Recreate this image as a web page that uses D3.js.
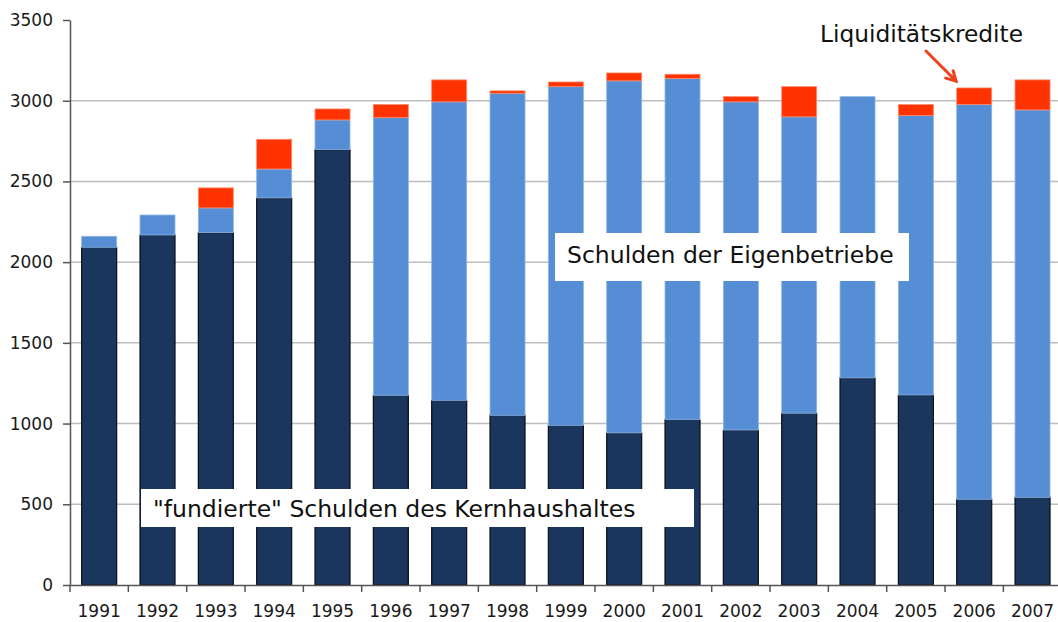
<!DOCTYPE html>
<html>
<head>
<meta charset="utf-8">
<script src="https://cdn.jsdelivr.net/npm/d3@7"></script>
<style>
  body { margin: 0; background: #fff; }
  text { font-family: "DejaVu Sans", Verdana, sans-serif; }
</style>
</head>
<body>
<div id="chart"></div>
<script>
const width = 1058;
const height = 622;

const years = ["1991", "1992", "1993", "1994", "1995", "1996", "1997", "1998", "1999",
    "2000", "2001", "2002", "2003", "2004", "2005", "2006", "2007"];
// "fundierte" Schulden des Kernhaushaltes
const kern = [2092, 2168, 2183, 2398, 2697, 1175, 1144, 1051, 989, 942, 1024, 960, 1064, 1283, 1177, 531, 543];
// Schulden der Eigenbetriebe
const eigen = [68, 124, 153, 179, 184, 1720, 1849, 1995, 2098, 2181, 2113, 2033, 1836, 1742, 1731, 2445, 2400];
// Liquiditätskredite
const liqui = [0, 0, 124, 184, 68, 81, 136, 15, 29, 49, 27, 32, 187, 0, 68, 103, 186];
const yTicks = [0, 500, 1000, 1500, 2000, 2500, 3000, 3500];

const colors = { kern: "#1b365d", eigen: "#558ed5", liqui: "#ff3300" };
const strokes = { kern: "#0a0f18", eigen: "#8fb4e6", liqui: "#ff8a6e" };

const svg = d3.select("#chart")
    .append("svg")
    .attr("width", width)
    .attr("height", height);

const x = d3.scaleBand()
    .domain(years)
    .range([70, 1061.7])
    .paddingInner(0.4)
    .paddingOuter(0.2);

const y = d3.scaleLinear()
    .domain([0, 3500])
    .range([585, 20]);

// gridlines
svg.append("g")
    .selectAll("line")
    .data(yTicks.filter(d => d > 0 && d < 3500))
    .enter()
    .append("line")
    .attr("x1", 70)
    .attr("x2", width)
    .attr("y1", d => y(d))
    .attr("y2", d => y(d))
    .attr("stroke", "#bdbdbd")
    .attr("stroke-width", 1.5);

const rows = years.map((yr, i) => ({ year: yr, kern: kern[i], eigen: eigen[i], liqui: liqui[i] }));
const stack = d3.stack().keys(["kern", "eigen", "liqui"])(rows);

svg.append("g")
    .selectAll("g")
    .data(stack)
    .enter()
    .append("g")
    .attr("fill", d => colors[d.key])
    .attr("stroke", d => strokes[d.key])
    .attr("stroke-width", d => d.key === "kern" ? 1.2 : 0.8)
    .selectAll("rect")
    .data(d => d.filter(p => p[1] - p[0] > 0))
    .enter()
    .append("rect")
    .attr("x", d => x(d.data.year))
    .attr("width", x.bandwidth())
    .attr("y", d => y(d[1]))
    .attr("height", d => y(d[0]) - y(d[1]));

// y axis
const yAxis = svg.append("g")
    .attr("transform", "translate(70,0)")
    .call(d3.axisLeft(y).tickValues(yTicks).tickFormat(d3.format("d"))
        .tickSize(7).tickPadding(10).tickSizeOuter(0));
yAxis.select(".domain").attr("stroke", "#555").attr("stroke-width", 1.5);
yAxis.selectAll(".tick line").attr("stroke", "#555").attr("stroke-width", 1.5);
yAxis.selectAll("text")
    .attr("font-size", 17)
    .attr("fill", "#1a1a1a")
    .style("font-family", "'DejaVu Sans', Verdana, sans-serif");

// x axis
const xAxis = svg.append("g")
    .attr("transform", "translate(0,585)")
    .call(d3.axisBottom(x).tickSize(0).tickPadding(20).tickSizeOuter(0));
xAxis.select(".domain").attr("stroke", "#555").attr("stroke-width", 1.5);
xAxis.selectAll("text")
    .attr("font-size", 17)
    .attr("fill", "#1a1a1a")
    .style("font-family", "'DejaVu Sans', Verdana, sans-serif");
xAxis.selectAll(".edge")
    .data(years)
    .enter()
    .append("line")
    .attr("x1", d => x(d) - x.step() * 0.2)
    .attr("x2", d => x(d) - x.step() * 0.2)
    .attr("y1", 0)
    .attr("y2", 7)
    .attr("stroke", "#555")
    .attr("stroke-width", 1.5);

// annotation boxes
function labelBox(txt, bx, by, bw, bh, tx, ty) {
    svg.append("rect")
        .attr("x", bx).attr("y", by)
        .attr("width", bw).attr("height", bh)
        .attr("fill", "#fff");
    svg.append("text")
        .attr("x", tx).attr("y", ty)
        .attr("font-size", 23.5)
        .attr("fill", "#111")
        .text(txt);
}
labelBox("Schulden der Eigenbetriebe", 555, 233, 354, 48, 567, 263);
labelBox("\"fundierte\" Schulden des Kernhaushaltes", 141, 489, 553, 38, 153, 517);

svg.append("text")
    .attr("x", 820)
    .attr("y", 42)
    .attr("font-size", 23.3)
    .attr("fill", "#111")
    .text("Liquiditätskredite");

// arrow
svg.append("defs").append("marker")
    .attr("id", "head")
    .attr("markerUnits", "userSpaceOnUse")
    .attr("viewBox", "0 0 12 12")
    .attr("refX", 10)
    .attr("refY", 6)
    .attr("markerWidth", 14)
    .attr("markerHeight", 14)
    .attr("orient", "auto")
    .append("path")
    .attr("d", "M2,1.5 L10,6 L2,10.5")
    .attr("fill", "none")
    .attr("stroke", "#f0401c")
    .attr("stroke-width", 2.6)
    .attr("stroke-linecap", "round");

svg.append("line")
    .attr("x1", 926).attr("y1", 51)
    .attr("x2", 956).attr("y2", 81)
    .attr("stroke", "#f0401c")
    .attr("stroke-width", 3)
    .attr("stroke-linecap", "round")
    .attr("marker-end", "url(#head)");
</script>
</body>
</html>
